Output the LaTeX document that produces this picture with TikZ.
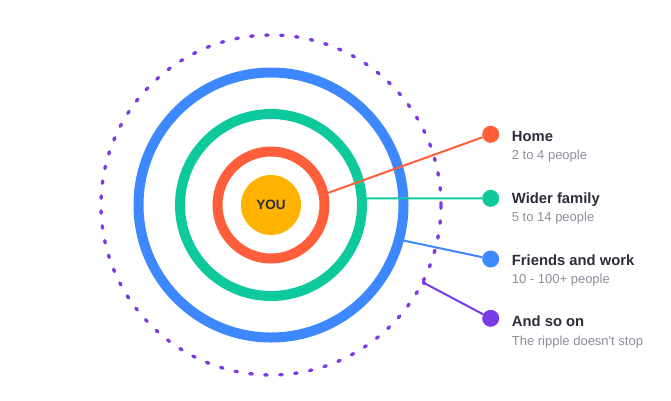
\documentclass[tikz,border=0pt]{standalone}
\usepackage{fontspec}
\setmainfont{Liberation Sans}
\usepackage{tikz}

\definecolor{homered}{HTML}{FF5E3A}
\definecolor{familygreen}{HTML}{0DC99B}
\definecolor{friendblue}{HTML}{3D88FF}
\definecolor{youyellow}{HTML}{FFB200}
\definecolor{ripplepurple}{HTML}{7B3AE8}
\definecolor{titlegray}{HTML}{2B2D3A}
\definecolor{subgray}{HTML}{8A8F99}

\begin{document}
\begin{tikzpicture}[x=1pt,y=-1pt,
    ring/.style={circle,line width=10pt,inner sep=0pt},
    link/.style={line width=2pt},
    endpoint/.style={circle,inner sep=0pt,minimum size=17pt},
    heading/.style={anchor=base west,inner sep=0pt,text=titlegray,
        font=\fontsize{14.8}{17}\selectfont\bfseries},
    subline/.style={anchor=base west,inner sep=0pt,text=subgray,
        font=\fontsize{13}{15}\selectfont}]
    \useasboundingbox (0,0) rectangle (671,400);

    % ripples round the centre
    \node[circle,inner sep=0pt,minimum size=340pt,draw=ripplepurple,
        line width=3.4pt,line cap=round,dash pattern=on 2.4pt off 12.6pt]
        (ripple) at (271,205) {};
    \node[ring,draw=friendblue,minimum size=265pt] (friendring) at (271,205) {};
    \node[ring,draw=familygreen,minimum size=182pt] (familyring) at (271,205) {};
    \node[ring,draw=homered,minimum size=107pt] (homering) at (271,205) {};
    \node[circle,fill=youyellow,minimum size=60pt,inner sep=0pt,text=titlegray,
        font=\fontsize{13.5}{15}\selectfont\bfseries] (you) at (271,205) {YOU};

    % legend dots
    \node[endpoint,fill=homered] (homedot) at (490.7,134.3) {};
    \node[endpoint,fill=familygreen] (familydot) at (490.7,198.3) {};
    \node[endpoint,fill=friendblue] (frienddot) at (490.7,259) {};
    \node[endpoint,fill=ripplepurple] (rippledot) at (490.7,318.3) {};

    \coordinate (ripplestart) at (ripple.-27);
    \fill[ripplepurple] (ripplestart) circle (2pt);

    \draw[link,homered] (homering.12.7) -- (homedot);
    \draw[link,familygreen] (familyring.4) -- (familydot);
    \draw[link,friendblue] (friendring.-15) -- (frienddot);
    \draw[link,ripplepurple] (ripplestart) -- (rippledot);

    % legend texts
    \node[heading] (hometitle) at (511.7,141) {Home};
    \node[subline] (homesub) at (511.7,159.5) {2 to 4 people};
    \node[heading] (familytitle) at (511.7,203.3) {Wider family};
    \node[subline] (familysub) at (511.7,221.7) {5 to 14 people};
    \node[heading] (friendtitle) at (511.7,265) {Friends and work};
    \node[subline] (friendsub) at (511.7,283.3) {10 - 100+ people};
    \node[heading] (rippletitle) at (511.7,326.7) {And so on};
    \node[subline] (ripplesub) at (511.7,345) {The ripple doesn\textquotesingle t stop};
\end{tikzpicture}
\end{document}
